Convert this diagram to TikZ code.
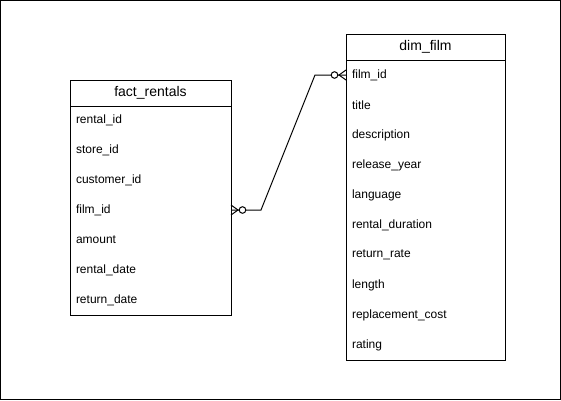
\documentclass[tikz,border=0pt]{standalone}
\usepackage{fontspec}
\setmainfont{Liberation Sans}
\usepackage{tikz}
\usetikzlibrary{calc}
\tikzset{
  every node/.append style={font=\fontsize{12}{14}\selectfont, outer sep=0pt},
  tblhead/.style={draw, anchor=north west, minimum width=#1, minimum height=26pt,
    inner sep=0pt, font=\fontsize{14}{16}\selectfont},
  tblrow/.style={anchor=north west, text width=#1, minimum height=30pt,
    inner xsep=6pt, inner ysep=0pt, align=left},
  zeromany/.pic={
    \draw (0,-5) -- (7,0) -- (0,5);
    \draw[fill=white] (11.5,0) circle (3.3);
  }
}

\begin{document}
\begin{tikzpicture}[x=1pt, y=-1pt, line width=1pt]
    \useasboundingbox (0,0) rectangle (561,400);
    \draw (0.5,0.5) rectangle (560.5,399.5);

    % fact table
    \node[tblhead=161pt] (frhead) at (70,80) {fact\_rentals};
    \foreach \f [count=\i] in {rental\_id, store\_id, customer\_id, film\_id, amount, rental\_date, return\_date}
        \node[tblrow=149pt] (fr\i) at ($(frhead.south west)+(0,{30*(\i-1)-1})$) {\f};
    \draw (frhead.south west) rectangle (fr7.south east);

    % dimension table
    \node[tblhead=159pt] (dfhead) at (346,34) {dim\_film};
    \foreach \f [count=\i] in {film\_id, title, description, release\_year, language, rental\_duration, return\_rate, length, replacement\_cost, rating}
        \node[tblrow=147pt] (df\i) at ($(dfhead.south west)+(0,{30*(\i-1)})$) {\f};
    \draw (dfhead.south west) rectangle (df10.south east);

    % relation
    \draw (fr4.east) -- ++(30,0) -- ($(df1.west)+(-31,0)$) -- (df1.west);
    \pic at (fr4.east) {zeromany};
    \pic[rotate=180] at (df1.west) {zeromany};
\end{tikzpicture}
\end{document}
